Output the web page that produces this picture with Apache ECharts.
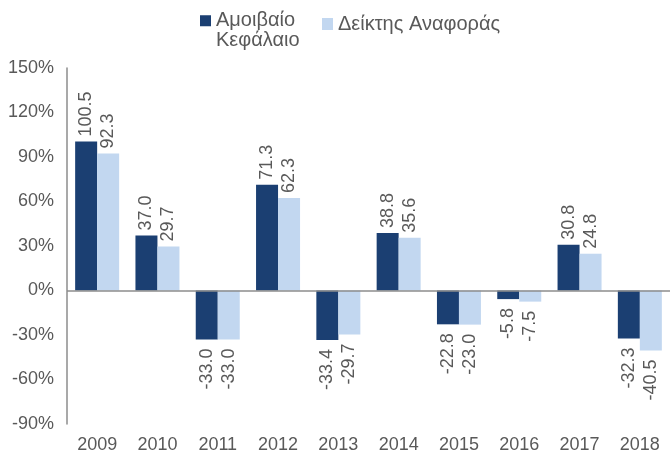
<!DOCTYPE html>
<html>
<head>
<meta charset="utf-8">
<script src="https://cdn.jsdelivr.net/npm/echarts@6/dist/echarts.min.js"></script>
<style>
  html, body { margin: 0; padding: 0; background: #fff; }
  #main { width: 670px; height: 458px; }
</style>
</head>
<body>
<div id="main"></div>
<script>
// data
const years = ["2009", "2010", "2011", "2012", "2013", "2014", "2015", "2016", "2017", "2018"];
const fundName = "Αμοιβαίο Κεφάλαιο";
const benchName = "Δείκτης Αναφοράς";
const fundValues = [100.5, 37.0, -33.0, 71.3, -33.4, 38.8, -22.8, -5.8, 30.8, -32.3];
const benchValues = [92.3, 29.7, -33.0, 62.3, -29.7, 35.6, -23.0, -7.5, 24.8, -40.5];

const textGray = "#595959";
const axisGray = "#8c8c8c";
const font = "Liberation Sans, Arial, sans-serif";

// labels sit at the end of each bar, rotated
function withLabels(values) {
  return values.map(function (v) {
    const pos = v >= 0;
    return {
      value: v,
      label: {
        position: pos ? "top" : "bottom",
        align: pos ? "left" : "right",
        distance: pos ? 5 : 9
      }
    };
  });
}

const barLabel = {
  show: true,
  rotate: 90,
  verticalAlign: "middle",
  color: textGray,
  fontSize: 18,
  fontFamily: font,
  formatter: function (p) { return p.value.toFixed(1); }
};

let myChart = echarts.init(document.getElementById("main"));

let option = {
  animation: false,
  backgroundColor: "#fff",
  legend: [
    {
      data: [fundName],
      left: 200,
      top: 10,
      padding: 0,
      itemWidth: 11,
      itemHeight: 40,
      // square only in the top part so it lines up with the first text line
      icon: "path://M0,0L12,0L12,0.01L0,0.01Z M0,4L12,4L12,16L0,16Z M0,39.99L12,39.99L12,40L0,40Z",
      formatter: function (name) { return name.replace(" ", "\n"); },
      textStyle: { color: textGray, fontSize: 20, lineHeight: 20, fontFamily: font }
    },
    {
      data: [benchName],
      left: 322,
      top: 14,
      padding: 0,
      itemWidth: 11,
      itemHeight: 12,
      icon: "rect",
      textStyle: { color: textGray, fontSize: 20, fontFamily: font }
    }
  ],
  grid: {
    left: 67,
    top: 68,
    width: 606,
    bottom: 34,
    containLabel: false
  },
  xAxis: {
    type: "category",
    data: years,
    axisLine: { show: false },
    axisTick: { show: false },
    axisLabel: { color: textGray, fontSize: 18, fontFamily: font, margin: 12 }
  },
  yAxis: {
    type: "value",
    min: -90,
    max: 150,
    interval: 30,
    axisLine: { show: true, lineStyle: { color: axisGray, width: 1.5 } },
    axisTick: { show: false },
    splitLine: { show: false },
    axisLabel: {
      color: textGray,
      fontSize: 18,
      fontFamily: font,
      margin: 13,
      formatter: "{value}%"
    }
  },
  series: [
    {
      name: fundName,
      type: "bar",
      barWidth: 22,
      barGap: "0%",
      itemStyle: { color: "#1b3f72" },
      label: barLabel,
      data: withLabels(fundValues),
      markLine: {
        silent: true,
        symbol: "none",
        label: { show: false },
        lineStyle: { color: axisGray, type: "solid", width: 1.5 },
        data: [{ yAxis: 0 }]
      }
    },
    {
      name: benchName,
      type: "bar",
      barWidth: 22,
      barGap: "0%",
      itemStyle: { color: "#c2d7f0" },
      label: barLabel,
      data: withLabels(benchValues)
    }
  ]
};

myChart.setOption(option);
</script>
</body>
</html>
